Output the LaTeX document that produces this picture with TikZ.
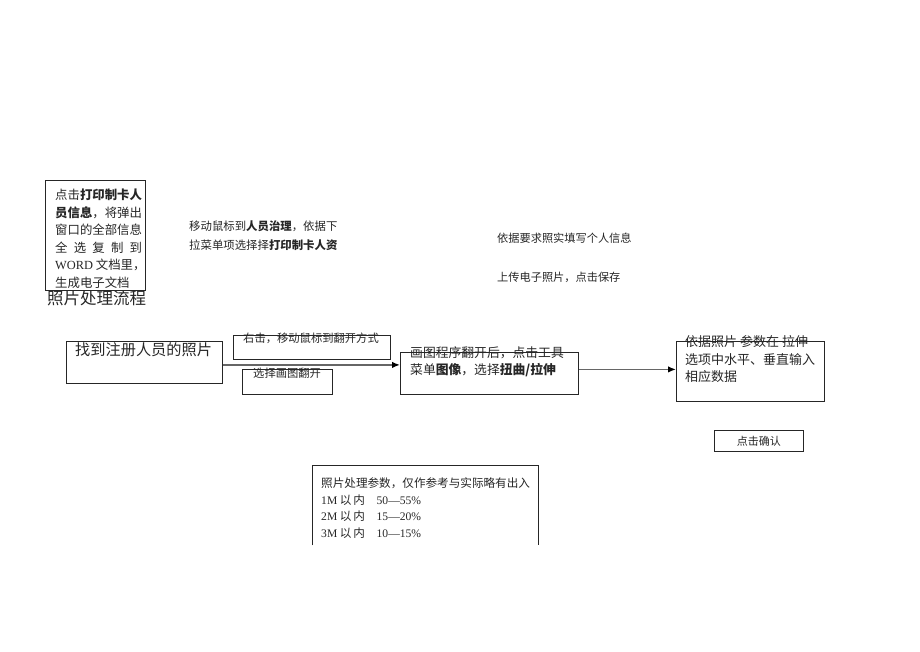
\documentclass[tikz,border=0pt]{standalone}
\usepackage{fontspec}
\setmainfont{Liberation Serif}
\newfontfamily\cjk{Noto Sans CJK SC}
\usepackage{tikz}
\usetikzlibrary{arrows.meta}
\tikzstyle{box} = [rectangle, draw=black!85, line width=0.8pt, inner sep=0pt, anchor=north west]
\tikzstyle{note} = [inner sep=0pt, align=left, text=black!85, font=\cjk]
\tikzstyle{arrow} = [line width=1.5pt, draw=black!60, -{Latex[length=8pt,width=6.5pt,color=black]}]

\begin{document}
\begin{tikzpicture}[x=1pt, y=-1pt]
        \useasboundingbox (0,0) rectangle (920,651);

        % Copy card info
        \node (copy_box) [box, minimum width=100pt, minimum height=110pt] at (45,180) {};
        \node (copy_txt) [note, anchor=north west, font=\cjk\fontsize{12.4}{17.5}\selectfont] at (55,189)
          {点击\textbf{打印制卡人}\\\textbf{员信息}，将弹出\\窗口的全部信息\\\makebox[86.8pt][s]{全\hfill 选\hfill 复\hfill 制\hfill 到}\\{\rmfamily WORD} 文档里，\\生成电子文档};
        \node (title) [note, anchor=west, font=\cjk\fontsize{16.5}{18}\selectfont] at (47,298) {照片处理流程};

        % Menu notes
        \node (menu_txt) [note, anchor=north west, font=\cjk\fontsize{11.4}{19}\selectfont] at (189,220.3)
          {移动鼠标到\textbf{人员治理}，依据下\\拉菜单项选择择\textbf{打印制卡人资}};
        \node (fill_txt) [note, anchor=west, font=\cjk\fontsize{11.2}{13}\selectfont] at (497,238) {依据要求照实填写个人信息};
        \node (upload_txt) [note, anchor=west, font=\cjk\fontsize{11.2}{13}\selectfont] at (497,277) {上传电子照片，点击保存};

        % Flow
        \node (find_photo) [box, minimum width=156pt, minimum height=42pt] at (66,341) {};
        \node (find_txt) [note, anchor=west, font=\cjk\fontsize{15.2}{17}\selectfont] at (75,350) {找到注册人员的照片};

        \node (right_click) [box, minimum width=157pt, minimum height=24pt] at (233,335) {};
        \node (right_click_txt) [note, anchor=west, font=\cjk\fontsize{11.3}{13}\selectfont] at (243,338) {右击，移动鼠标到翻开方式};

        \node (open_paint) [box, minimum width=90pt, minimum height=25pt] at (242,369) {};
        \node (open_paint_txt) [note, anchor=west, font=\cjk\fontsize{11.3}{13}\selectfont] at (253,373) {选择画图翻开};

        \node (paint) [box, minimum width=178pt, minimum height=42pt] at (400,352) {};
        \node (paint_txt) [note, anchor=north west, font=\cjk\fontsize{12.8}{17}\selectfont] at (410,346.6)
          {画图程序翻开后，点击工具\\菜单\textbf{图像}，选择\textbf{扭曲/拉伸}};

        \node (stretch) [box, minimum width=148pt, minimum height=60pt] at (676,341) {};
        \node (stretch_txt) [note, anchor=north west, font=\cjk\fontsize{13}{17.5}\selectfont] at (685,335.5)
          {依据照片 参数在 拉伸\\选项中水平、垂直输入\\相应数据};

        \node (confirm) [box, minimum width=89pt, minimum height=21pt] at (714,430) {};
        \node (confirm_txt) [note, font=\cjk\fontsize{11}{13}\selectfont] at (confirm.center) {点击确认};

        % Parameters
        \node (params) [anchor=north west, minimum width=226pt, minimum height=80pt, inner sep=0pt] at (312,465) {};
        \draw [draw=black!85, line width=0.8pt] (params.south west) -- (params.north west) -- (params.north east) -- (params.south east);
        \node (params_txt) [note, anchor=north west, font=\cjk\fontsize{11.6}{16.8}\selectfont] at (321,477.2)
          {照片处理参数，仅作参考与实际略有出入\\
           {\rmfamily 1M} 以\,内\quad {\rmfamily 50—55\%}\\
           {\rmfamily 2M} 以\,内\quad {\rmfamily 15—20\%}\\
           {\rmfamily 3M} 以\,内\quad {\rmfamily 10—15\%}};

        % Arrows
        \draw [arrow] ([yshift=-2.5pt]find_photo.east) -- ([yshift=-2.5pt]find_photo.east -| paint.west);
        \draw [arrow] ([yshift=4pt]paint.east) -- ([yshift=4pt]paint.east -| stretch.west);
      \end{tikzpicture}
\end{document}
